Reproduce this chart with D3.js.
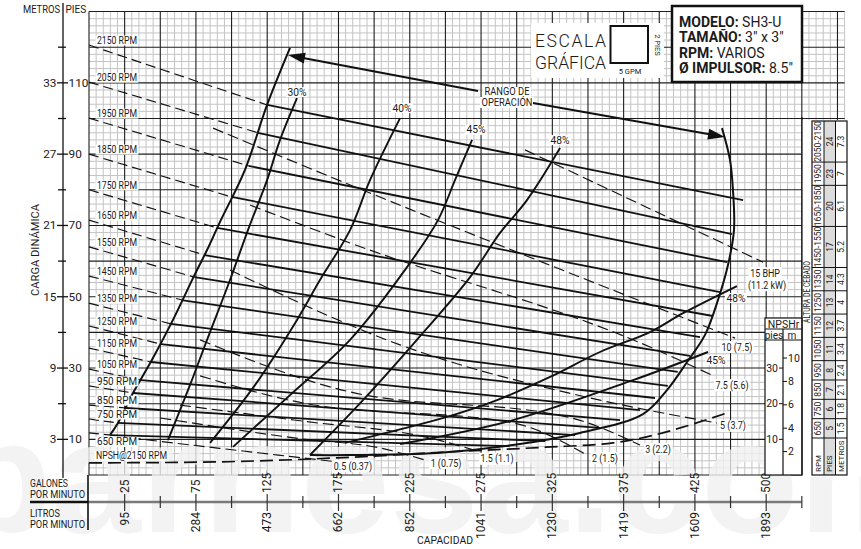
<!DOCTYPE html>
<html><head><meta charset="utf-8">
<script src="https://cdn.jsdelivr.net/npm/d3@7"></script>
<style>
body{margin:0;background:#fff}
text{font-family:Roboto,"Liberation Sans",sans-serif;fill:#1a1a1a}
</style></head><body>
<svg id="c" width="861" height="549"></svg>
<script>
// ---------------- DATA ----------------
const rpmNames = ["2150","2050","1950","1850","1750","1650","1550","1450","1350","1250","1150","1050","950","850","750","650"];
const shutoffFt = [120.6,110.2,100.1,90,80,71.5,64,55.8,48.2,41.8,35.6,29.7,25,19.6,15.7,11.8];
const solidStart = [[125,103.8],[118.5,96],[112,86.7],[100,78],[90,69.3],[81,61.7],[74,55.5],[66,49],[57.5,42.4],[50.5,36.7],[43.5,31.7],[36.5,26.6],[31,23],[26,18.8],[20,14.6],[15,11.2]];
const solidEnd = [[458.8,77.1],[451,67.6],[447.5,59.7],[442.6,51.3],[437.7,44.6],[428.6,38.7],[421.6,33.4],[413,28.9],[406,25],[397,21.6],[386.5,18.2],[372.5,15.4],[358.5,13.2],[341,11.2],[320,9.5],[295,8.1]];

const leftBoundary = [[141,119.8],[124.9,103.8],[109.4,85.6],[91.9,71],[82.8,63.1],[74.4,56.4],[58.9,43.5],[44.2,32.3],[30.9,23],[20.3,14.6],[14.7,11.2]];
const rightBoundary = [[444,97.3],[449.6,88.4],[451.7,79.9],[452.4,68.7],[448.2,58.9],[441.2,49.1],[432.1,39.3],[419.5,31.7],[405.4,23.8],[388.6,17.1],[344.4,11.8],[297.4,8.4],[244.1,6.2],[181,5.6],[155,5.6]];

const effNames = ["30%","40%","45%","48%"];
const effLeft = [
  [[145.9,105.7],[134,94],[124.9,82.7],[111.5,68.7],[98.9,54.7],[82.8,37.9],[70.8,25.2],[55.4,9.8]],
  [[218.2,100.1],[197.1,82.7],[183.1,68.7],[162,54.7],[145.9,43.5],[116.4,25.2],[84.9,9]],
  [[268.7,94],[256.7,82.7],[244.8,71.5],[225.2,59.5],[183.1,37.9],[141,22.4],[101,7.9]],
  [[330.4,91.7],[307.2,77.1],[288.3,67.9],[267.3,55.5],[230,37.9],[192.2,21],[155,5.6]]
];
const effRightNames = ["48%","45%"];
const effRight = [
  [[179.6,9],[251.1,16.3],[286.2,21],[323.4,27.5],[358.4,34.5],[393.5,40.1],[416.7,45.4],[454.5,53]],
  [[218.2,8.7],[297.4,15.4],[381.6,26.6],[434.2,34.5]]
];

const bhpNames = ["15 BHP","10","7.5","5","3","2","1.5","1","0.5"];
const bhpKw = ["(11.2 kW)","(7.5)","(5.6)","(3.7)","(2.2)","(1.5)","(1.1)","(0.75)","(0.37)"];
const bhpCurves = [
  [[305.8,91.2],[472.8,59.7]],
  [[87,97.3],[145.9,87.5],[453.1,38.4]],
  [[113,75.7],[183.1,65.1],[393.5,35.9],[437,28]],
  [[98.9,57.5],[218.2,36.5],[358.4,21],[440.5,14.6]],
  [[77.9,37.9],[183.1,23.3],[335.3,16.3],[386.5,8.4]],
  [[77.9,27.8],[150.1,20.2],[297.4,14.6],[349.3,5.6]],
  [[63.8,19.6],[150,15.1],[239,10.4],[274.3,6.5]],
  [[50,16],[150,10.1],[204,7.6],[235.7,4.2]],
  [[28.8,10.4],[113,6.5],[176,3.6]]
];
const npshCurve = [[0,3.4],[77.9,3.6],[174,4.8],[253,6.5],[320,7.8],[367.6,9],[447.5,17.4]];

const gpmTicks = [25,75,125,175,225,275,325,375,425,475];
const gpmLabels = ["25","75","125","175","225","275","325","375","425","500"];
const lpmLabels = ["95","284","473","662","852","1041","1230","1419","1609","1893"];
const gpmMinor = [50,100,150,200,250,300,350,400,450,500];
const ftTicks = [10,30,50,70,90,110];
const mLabels = ["3","9","15","21","27","33"];
const ftMinor = [20,40,60,80,100,120];

const primeRpm = ["2050-2150","1950","1650-1850","1450-1550","1350","1250","1150","1050","950","850","750","650"];
const primePies = ["24","23","20","17","14","13","12","11","8","7","6","5"];
const primeMetros = ["7.3","7","6.1","5.2","4.3","4","3.7","3.4","2.4","2.1","1.8","1.5"];

const npshPiesTicks = [10,20,30];
const npshMTicks = [2,4,6,8,10];

(function(){
const svg = d3.select("#c");
const x = d3.scaleLinear().domain([0,530]).range([89,844.6]);
const y = d3.scaleLinear().domain([0,130]).range([475,11.55]);
const line = d3.line().x(d=>x(d[0])).y(d=>y(d[1]));

// grid
const g = svg.append("g");
g.selectAll("line.mx").data(d3.range(0,531,5).filter(d=>d%25)).join("line")
  .attr("x1",d=>x(d)).attr("x2",d=>x(d)).attr("y1",y(0)).attr("y2",y(130))
  .attr("stroke","#c4c4c4").attr("stroke-width",1);
g.selectAll("line.my").data(d3.range(0,131,2).filter(d=>d%10)).join("line")
  .attr("y1",d=>y(d)).attr("y2",d=>y(d)).attr("x1",x(0)).attr("x2",x(530))
  .attr("stroke","#c4c4c4").attr("stroke-width",1);
g.selectAll("line.Mx").data(d3.range(0,531,25)).join("line")
  .attr("x1",d=>x(d)).attr("x2",d=>x(d)).attr("y1",y(0)).attr("y2",y(130))
  .attr("stroke","#1e1e1e").attr("stroke-width",1.1);
g.selectAll("line.My").data(d3.range(0,131,10)).join("line")
  .attr("y1",d=>y(d)).attr("y2",d=>y(d)).attr("x1",x(0)).attr("x2",x(530))
  .attr("stroke","#1e1e1e").attr("stroke-width",1.1);

// watermark (light)
svg.append("text").text("barnesa.com").attr("x",-46).attr("y",532)
  .attr("font-size",160).attr("font-weight","bold")
  .style("font-family","'Liberation Sans',sans-serif")
  .style("fill","#f1f1f1").attr("opacity",0.8);

// table area cover
svg.append("rect").attr("x",802).attr("y",120).attr("width",59).attr("height",357).attr("fill","#fff");

const curves = svg.append("g").attr("fill","none").attr("stroke","#111");
curves.selectAll("path.rd").data(rpmNames).join("path")
  .attr("d",(d,i)=>line([[0,shutoffFt[i]],solidStart[i]]))
  .attr("stroke-width",1.15).attr("stroke-dasharray","10,5");
const mono = d3.line().x(p=>x(p[0])).y(p=>y(p[1])).curve(d3.curveMonotoneX);
curves.selectAll("path.bhp").data(bhpCurves).join("path")
  .attr("d",d=>mono(d)).attr("stroke-width",1.15).attr("stroke-dasharray","11,5");
curves.append("path").attr("d",mono(npshCurve)).attr("stroke-width",1.7).attr("stroke-dasharray","13,6");
curves.selectAll("path.rs").data(rpmNames).join("path")
  .attr("d",(d,i)=>line([solidStart[i],solidEnd[i]])).attr("stroke-width",1.8);
const smooth = d3.line().x(p=>x(p[0])).y(p=>y(p[1])).curve(d3.curveCatmullRom);
curves.append("path").attr("d",smooth(leftBoundary)).attr("stroke-width",2);
curves.append("path").attr("d",smooth(rightBoundary)).attr("stroke-width",2);
curves.selectAll("path.el").data(effLeft).join("path").attr("d",d=>smooth(d)).attr("stroke-width",1.9);
curves.selectAll("path.er").data(effRight).join("path").attr("d",d=>smooth(d)).attr("stroke-width",1.9);

function tag(txt, px, py, opt={}) {
  const gg = svg.append("g");
  const t = gg.append("text").text(txt).attr("x",px).attr("y",py)
    .attr("font-size",opt.size||10).attr("text-anchor",opt.anchor||"middle")
    .attr("dominant-baseline","central");
  if (opt.squeeze) { const n=t.node().getComputedTextLength(); t.attr("textLength",n*opt.squeeze).attr("lengthAdjust","spacingAndGlyphs"); }
  if (opt.len) t.attr("textLength",opt.len).attr("lengthAdjust","spacingAndGlyphs");
  const b = t.node().getBBox();
  gg.insert("rect","text").attr("x",b.x-1.5).attr("y",b.y+0.5).attr("width",b.width+3).attr("height",b.height-1).attr("fill","#fff");
  return gg;
}
const rpmLabelDy = rpmNames.map(n=>n==="650"?9:-4.5);
rpmNames.forEach((n,i)=>tag(n+" RPM", x(0)+8, y(shutoffFt[i])+rpmLabelDy[i], {anchor:"start", len:40}));
tag("NPSH@2150 RPM", x(0)+7, y(npshCurve[0][1])-7, {anchor:"start", len:71});
const effOff = [[0,-6],[2,-10],[4,-10],[0,-8]];
effNames.forEach((n,i)=>tag(n, x(effLeft[i][0][0])+effOff[i][0], y(effLeft[i][0][1])+effOff[i][1], {len:19}));
const effROff = [[-1,12],[8,8]];
effRightNames.forEach((n,i)=>{const p=effRight[i][effRight[i].length-1]; tag(n, x(p[0])+effROff[i][0], y(p[1])+effROff[i][1], {len:19});});
const bhpOff = [[2,11],[2,9],[20,10],[16,3],[18,4],[18,3],[17,7],[21,3],[13,4]];
bhpNames.forEach((n,i)=>{
  const c=bhpCurves[i], p=c[c.length-1];
  if(i===0){tag(n, x(p[0])+bhpOff[i][0], y(p[1])+bhpOff[i][1], {size:10.5, squeeze:0.85}); tag(bhpKw[i], x(p[0])+bhpOff[i][0]+2, y(p[1])+bhpOff[i][1]+12, {size:10.5, squeeze:0.85});}
  else tag(n+" "+bhpKw[i], x(p[0])+bhpOff[i][0], y(p[1])+bhpOff[i][1], {size:10.5, squeeze:0.85});
});

const arrowTipL=[139.6,117.8], arrowTipR=[446.1,94.8], rangoAt=[293.2,105.9];
tag("RANGO DE", x(rangoAt[0]), y(rangoAt[1])-5.5, {size:10, len:45});
tag("OPERACIÓN", x(rangoAt[0]), y(rangoAt[1])+5.5, {size:10, len:51});
function arrow(fromPx, toPx){
  const [x1,y1]=fromPx,[x2,y2]=toPx, a=Math.atan2(y2-y1,x2-x1);
  svg.append("line").attr("x1",x1).attr("y1",y1).attr("x2",x2-10*Math.cos(a)).attr("y2",y2-10*Math.sin(a)).attr("stroke","#111").attr("stroke-width",2);
  const L=17,Wd=5.5;
  const bx=x2-L*Math.cos(a), by=y2-L*Math.sin(a);
  svg.append("path").attr("d",`M${x2},${y2}L${bx-Wd*Math.sin(a)},${by+Wd*Math.cos(a)}L${bx+Wd*Math.sin(a)},${by-Wd*Math.cos(a)}Z`).attr("fill","#111");
}
arrow([x(rangoAt[0])-29, y(rangoAt[1])-6.5], [x(arrowTipL[0]), y(arrowTipL[1])]);
arrow([x(rangoAt[0])+26, y(rangoAt[1])+5.5], [x(arrowTipR[0]), y(arrowTipR[1])]);

// escala grafica
svg.append("rect").attr("x",531).attr("y",23).attr("width",133).attr("height",55).attr("fill","#fff");
svg.append("text").text("ESCALA").attr("x",535).attr("y",46.5).attr("font-size",17.5).attr("font-weight",300)
  .attr("textLength",71).attr("lengthAdjust","spacing");
svg.append("text").text("GRÁFICA").attr("x",535).attr("y",68.5).attr("font-size",17.5).attr("font-weight",300)
  .attr("textLength",71).attr("lengthAdjust","spacingAndGlyphs");
svg.append("rect").attr("x",610.5).attr("y",26).attr("width",37.5).attr("height",37).attr("fill","#fff").attr("stroke","#111").attr("stroke-width",2);
svg.append("text").text("5 GPM").attr("x",630).attr("y",71).attr("font-size",7.5).attr("text-anchor","middle").attr("dominant-baseline","central");
svg.append("text").text("2 PIES").attr("transform","translate(657,45) rotate(90)").attr("font-size",7.5).attr("text-anchor","middle").attr("dominant-baseline","central");

// header box
svg.append("rect").attr("x",672).attr("y",6).attr("width",130).attr("height",76).attr("fill","#fff").attr("stroke","#111").attr("stroke-width",2.5);
const hdr=[["MODELO:"," SH3-U"],["TAMAÑO:"," 3\" x 3\""],["RPM:"," VARIOS"],["Ø IMPULSOR:"," 8.5\""]];
hdr.forEach((h,i)=>{
  const t=svg.append("text").attr("x",679).attr("y",27+i*15.4).attr("font-size",14);
  t.append("tspan").text(h[0]).attr("font-weight","bold");
  t.append("tspan").text(h[1]);
});

// left axis
const ax=svg.append("g");
ax.append("line").attr("x1",63).attr("x2",63).attr("y1",3).attr("y2",478).attr("stroke","#111").attr("stroke-width",1.3);
ax.selectAll("line.t").data(ftTicks).join("line").attr("x1",57).attr("x2",68).attr("y1",d=>y(d)).attr("y2",d=>y(d)).attr("stroke","#111").attr("stroke-width",1.3);
ax.selectAll("line.tm").data(ftMinor).join("line").attr("x1",58).attr("x2",66).attr("y1",d=>y(d)).attr("y2",d=>y(d)).attr("stroke","#111").attr("stroke-width",1.3);
ax.selectAll("text.p").data(ftTicks).join("text").text(d=>d).attr("x",68.5).attr("y",d=>y(d)).attr("font-size",11.8).attr("dominant-baseline","central");
ax.selectAll("text.m").data(ftTicks).join("text").text((d,i)=>mLabels[i]).attr("x",56.5).attr("y",d=>y(d)).attr("font-size",11.8).attr("text-anchor","end").attr("dominant-baseline","central");
svg.append("text").text("METROS").attr("x",60).attr("y",9.5).attr("font-size",10).attr("text-anchor","end").attr("dominant-baseline","central").attr("textLength",37).attr("lengthAdjust","spacingAndGlyphs");
svg.append("text").text("PIES").attr("x",65.5).attr("y",9.5).attr("font-size",10).attr("dominant-baseline","central");
svg.append("text").text("CARGA DINÁMICA").attr("transform","translate(35,250) rotate(-90)").attr("font-size",11.5).attr("text-anchor","middle").attr("dominant-baseline","central").attr("textLength",92).attr("lengthAdjust","spacingAndGlyphs");

// bottom axis
const bxg=svg.append("g");
bxg.append("line").attr("x1",30).attr("x2",88).attr("y1",502).attr("y2",502).attr("stroke","#111").attr("stroke-width",2.6);
bxg.append("line").attr("x1",88).attr("x2",x(500)).attr("y1",502).attr("y2",502).attr("stroke","#7a7a7a").attr("stroke-width",2.6);
bxg.append("line").attr("x1",88).attr("x2",88).attr("y1",475).attr("y2",530).attr("stroke","#111").attr("stroke-width",1.6);
bxg.selectAll("line.gt").data(gpmTicks).join("line").attr("x1",d=>x(d)).attr("x2",d=>x(d)).attr("y1",494).attr("y2",511).attr("stroke","#333").attr("stroke-width",1.2);
bxg.selectAll("line.gm").data(gpmMinor).join("line").attr("x1",d=>x(d)).attr("x2",d=>x(d)).attr("y1",496).attr("y2",508).attr("stroke","#333").attr("stroke-width",1.2);
bxg.selectAll("text.g").data(gpmTicks).join("text").text((d,i)=>gpmLabels[i])
  .attr("transform",d=>`translate(${x(d)},493) rotate(-90)`).attr("font-size",12).attr("dominant-baseline","central");
bxg.selectAll("text.l").data(gpmTicks).join("text").text((d,i)=>lpmLabels[i])
  .attr("transform",d=>`translate(${x(d)},512) rotate(-90)`).attr("font-size",12).attr("text-anchor","end").attr("dominant-baseline","central");
[["GALONES",483,38],["POR MINUTO",494,55],["LITROS",513,30],["POR MINUTO",524,55]].forEach(s=>
  svg.append("text").text(s[0]).attr("x",30).attr("y",s[1]).attr("font-size",10.5).attr("dominant-baseline","central")
    .attr("textLength",s[2]).attr("lengthAdjust","spacingAndGlyphs"));
svg.append("text").text("CAPACIDAD").attr("x",445).attr("y",540).attr("font-size",10.5).attr("text-anchor","middle").attr("dominant-baseline","central").attr("textLength",56).attr("lengthAdjust","spacingAndGlyphs");

// NPSHr box
const nb=svg.append("g");
nb.append("rect").attr("x",765).attr("y",318).attr("width",37).attr("height",157).attr("fill","#fff").attr("stroke","#111").attr("stroke-width",1.2);
nb.append("text").text("NPSHr").attr("x",783.5).attr("y",324).attr("font-size",10.5).attr("text-anchor","middle").attr("dominant-baseline","central");
nb.append("line").attr("x1",765).attr("x2",802).attr("y1",329).attr("y2",329).attr("stroke","#111");
nb.append("line").attr("x1",765).attr("x2",802).attr("y1",340).attr("y2",340).attr("stroke","#111");
nb.append("text").text("pies").attr("x",774).attr("y",335).attr("font-size",10).attr("text-anchor","middle").attr("dominant-baseline","central");
nb.append("text").text("m").attr("x",792).attr("y",335).attr("font-size",10).attr("text-anchor","middle").attr("dominant-baseline","central");
nb.append("line").attr("x1",783).attr("x2",783).attr("y1",329).attr("y2",475).attr("stroke","#111").attr("stroke-width",1.2);
nb.selectAll("line.p").data(npshPiesTicks).join("line").attr("x1",779).attr("x2",783).attr("y1",d=>y(d)).attr("y2",d=>y(d)).attr("stroke","#111");
nb.selectAll("text.p").data(npshPiesTicks).join("text").text(d=>d).attr("x",778).attr("y",d=>y(d)).attr("font-size",10.5).attr("text-anchor","end").attr("dominant-baseline","central");
nb.selectAll("line.m").data(npshMTicks).join("line").attr("x1",783).attr("x2",787).attr("y1",d=>y(d*3.2808)).attr("y2",d=>y(d*3.2808)).attr("stroke","#111");
nb.selectAll("text.m").data(npshMTicks).join("text").text(d=>d).attr("x",788).attr("y",d=>y(d*3.2808)).attr("font-size",10.5).attr("dominant-baseline","central");

// priming table
const tb=svg.append("g");
const colX=[812,824,835.5,847];
const tTop=121, bodyBottom=438, tBottom=475;
const tmp=tb.append("text").attr("font-size",8.5);
const lens=primeRpm.map(s=>{tmp.text(s);return tmp.node().getComputedTextLength()+9;});
tmp.remove();
const tot=d3.sum(lens), k=(bodyBottom-tTop)/tot;
let acc=tTop; const rows=lens.map(l=>{const r=[acc,acc+l*k];acc+=l*k;return r;});
tb.append("rect").attr("x",colX[1]).attr("y",tTop).attr("width",colX[2]-colX[1]).attr("height",tBottom-tTop).attr("fill","#dcdcdc");
tb.append("rect").attr("x",colX[0]).attr("y",tTop).attr("width",colX[3]-colX[0]).attr("height",tBottom-tTop).attr("fill","none").attr("stroke","#111").attr("stroke-width",1.2);
colX.slice(1,3).forEach(cx=>tb.append("line").attr("x1",cx).attr("x2",cx).attr("y1",tTop).attr("y2",tBottom).attr("stroke","#111"));
rows.forEach(r=>tb.append("line").attr("x1",colX[0]).attr("x2",colX[3]).attr("y1",r[1]).attr("y2",r[1]).attr("stroke","#111"));
[primeRpm,primePies,primeMetros].forEach((arr,c)=>{
  arr.forEach((s,i)=>{
    tb.append("text").text(s).attr("transform",`translate(${(colX[c]+colX[c+1])/2},${(rows[i][0]+rows[i][1])/2}) rotate(-90)`)
      .attr("font-size",8.5).attr("text-anchor","middle").attr("dominant-baseline","central");
  });
});
["RPM","PIES","METROS"].forEach((s,c)=>tb.append("text").text(s).attr("transform",`translate(${(colX[c]+colX[c+1])/2},${tBottom-3}) rotate(-90)`)
  .attr("font-size",8).attr("dominant-baseline","central"));
tb.append("line").attr("x1",802).attr("x2",802).attr("y1",117).attr("y2",475).attr("stroke","#111").attr("stroke-width",1.2);
tb.append("text").text("ALTURA DE CEBADO").attr("transform","translate(807,292) rotate(-90)").attr("font-size",8.5).attr("text-anchor","middle").attr("dominant-baseline","central").attr("textLength",62).attr("lengthAdjust","spacingAndGlyphs");
})();
</script></body></html>
